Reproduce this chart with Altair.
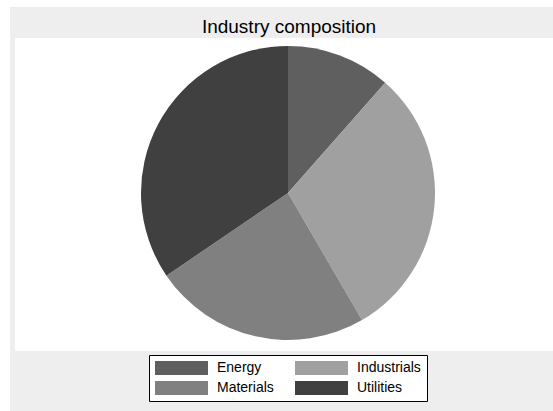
import altair as alt
import pandas as pd

# Industry shares (percent of total)
sectors = ["Energy", "Industrials", "Materials", "Utilities"]
shares = [11.5, 30.1, 23.9, 34.5]
greys = ["#5f5f5f", "#a0a0a0", "#808080", "#404040"]
title_text = "Industry composition"

W, H = 553, 411
FONT = "Liberation Sans"

pie_df = pd.DataFrame({"sector": sectors, "share": shares})
one_row = pd.DataFrame({"k": [0]})

# Outer grey frame of the graph region
frame = alt.Chart(one_row).mark_rect(fill="#eeeeee").encode(
    x=alt.value(10), x2=alt.value(W + 20),
    y=alt.value(7), y2=alt.value(H + 20),
)

# White plot region
plotregion = alt.Chart(one_row).mark_rect(fill="white").encode(
    x=alt.value(15), x2=alt.value(W + 20),
    y=alt.value(38), y2=alt.value(351),
)

title = alt.Chart(one_row).mark_text(
    text=title_text, font=FONT, fontSize=19, color="black",
    align="center", baseline="alphabetic",
).encode(x=alt.value(289), y=alt.value(33))

# Legend key: a wide bar, 53 x 14 px (symbol size 196 -> unit = 7 px)
bar_path = "M-3.786,-1L3.786,-1L3.786,1L-3.786,1Z"

pie = alt.Chart(pie_df).mark_arc(radius=147, strokeWidth=0).encode(
    theta=alt.Theta("share:Q", stack=True),
    color=alt.Color(
        "sector:N",
        sort=sectors,
        scale=alt.Scale(domain=sectors, range=greys),
        legend=alt.Legend(
            title=None,
            orient="none",
            legendX=149,
            legendY=355,
            direction="horizontal",
            columns=2,
            columnPadding=20,
            rowPadding=6,
            padding=6,
            strokeColor="black",
            fillColor="white",
            symbolType=bar_path,
            symbolSize=196,
            symbolOffset=19.5,
            symbolStrokeWidth=0,
            symbolOpacity=1,
            labelFont=FONT,
            labelFontSize=14,
            labelColor="black",
            labelOffset=28.5,
            labelLimit=200,
        ),
    ),
    order=alt.Order("sector:N", sort="ascending"),
    x=alt.value(288),
    y=alt.value(193),
)

chart = alt.layer(frame, plotregion, title, pie).properties(
    width=W,
    height=H,
    padding=0,
    autosize=alt.AutoSizeParams(type="none"),
    background="white",
).configure_view(stroke=None)

chart.save("out.html", embed_options={"renderer": "svg", "actions": False})
